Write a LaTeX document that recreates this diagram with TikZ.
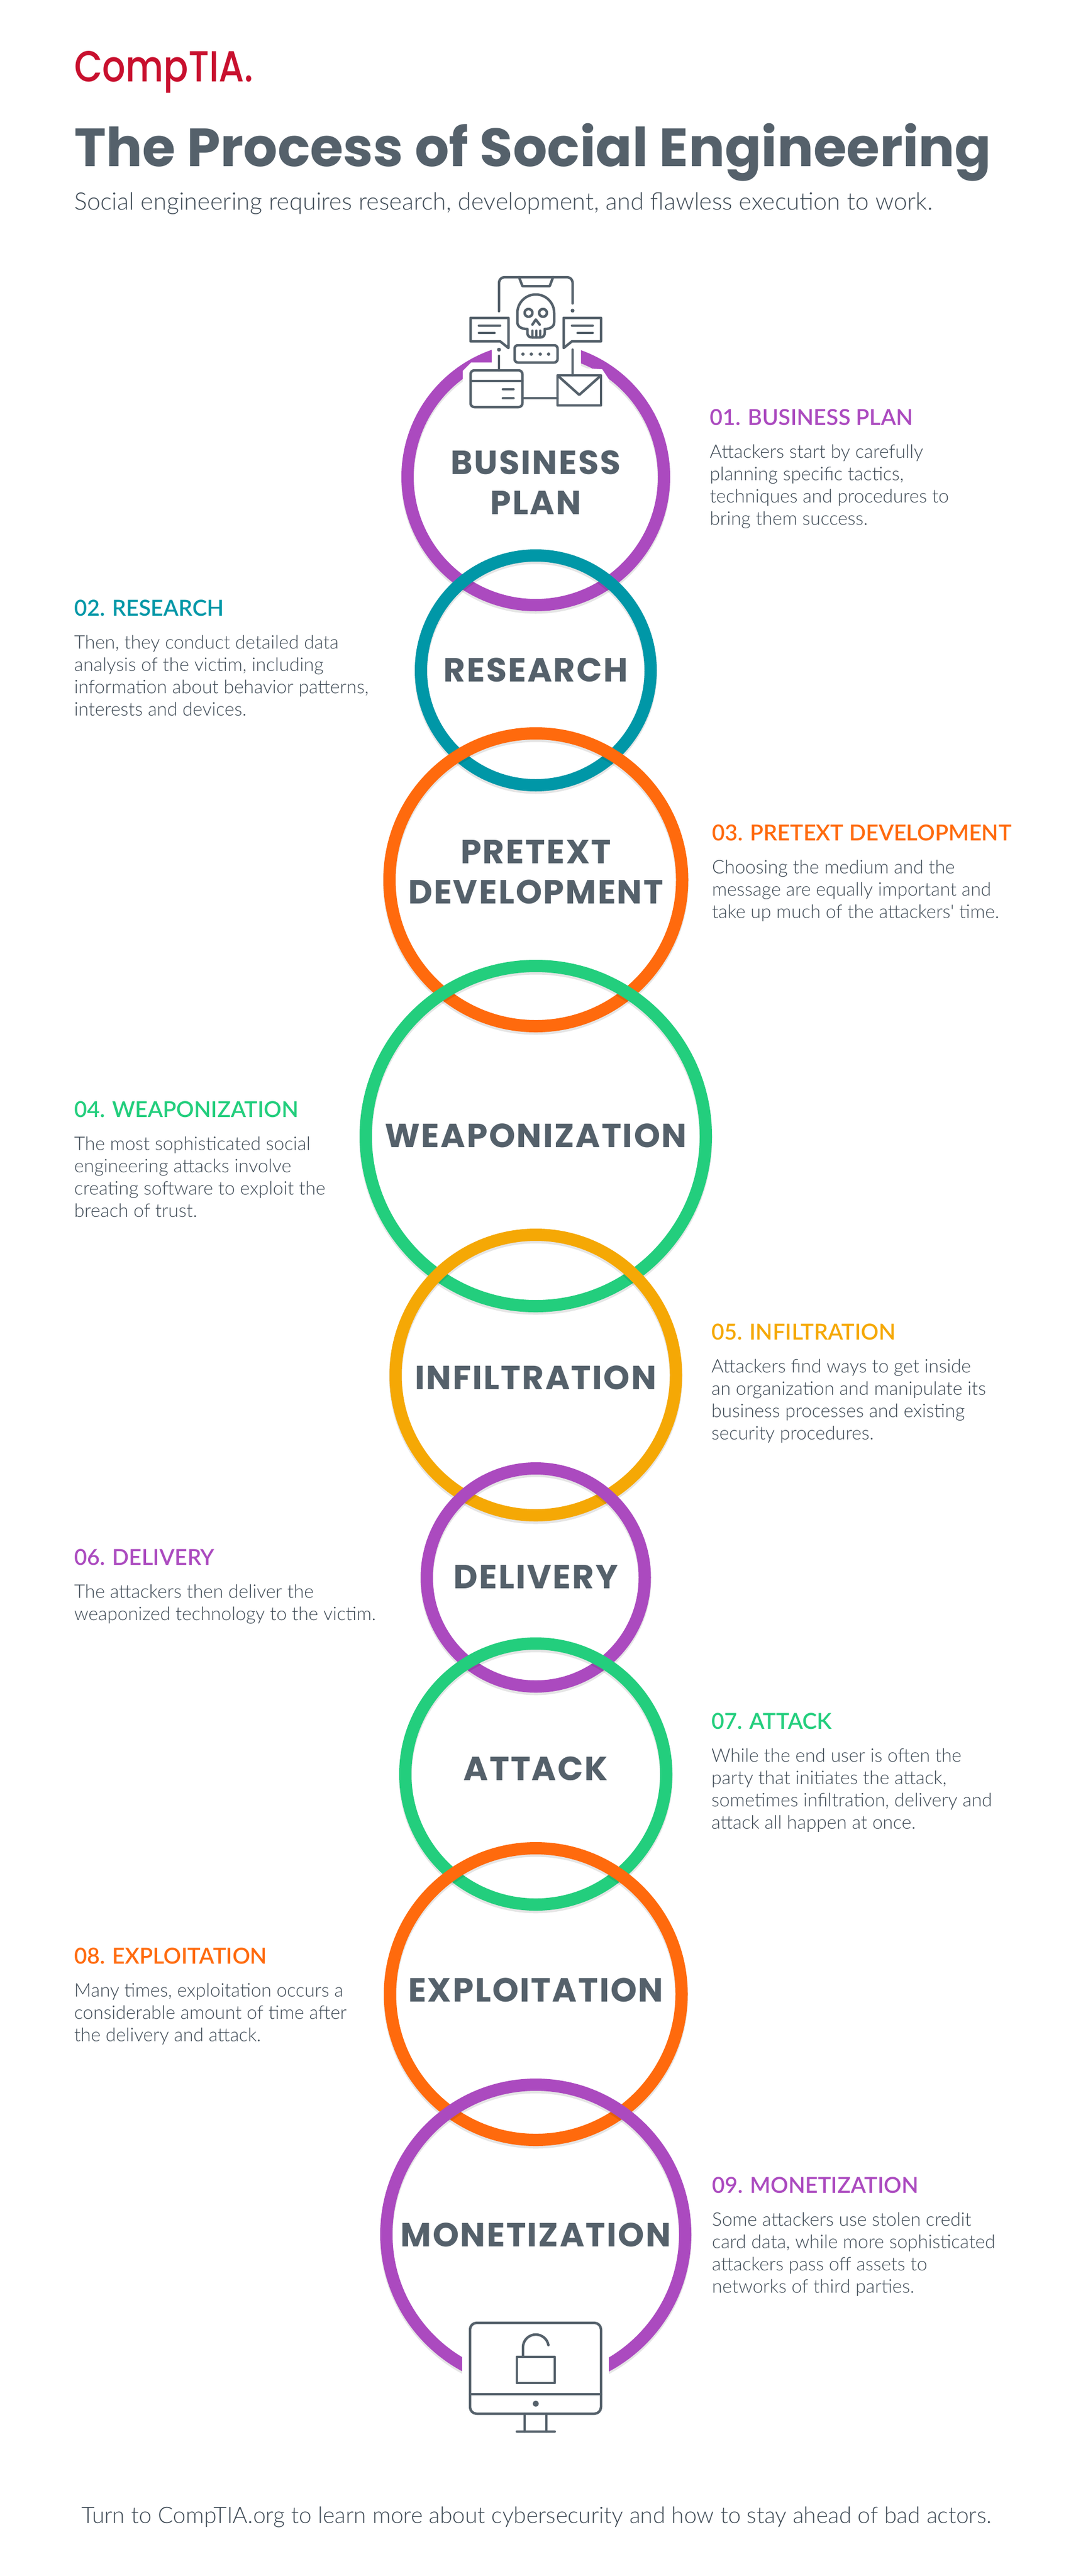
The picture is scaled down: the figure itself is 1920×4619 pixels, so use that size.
\documentclass[tikz,border=0pt]{standalone}
\usepackage{fontspec}
\usetikzlibrary{positioning}
\setmainfont{Lato}
\newfontfamily\bodyfont{Lato Light}
\newfontfamily\headfont{Lato Semibold}
\newfontfamily\ringfont{Poppins Bold}[LetterSpace=4]
\newfontfamily\logofont{Poppins Medium}
\newfontfamily\titlefont{Poppins}[BoldFont=Poppins Bold]
\definecolor{ringpurple}{HTML}{AB4ABF}
\definecolor{ringteal}{HTML}{0097A7}
\definecolor{ringorange}{HTML}{FF6A0D}
\definecolor{ringgreen}{HTML}{23CE7D}
\definecolor{ringamber}{HTML}{F5A805}
\definecolor{slategray}{HTML}{55616B}
\definecolor{bodygray}{HTML}{3E4A55}
\definecolor{logored}{HTML}{C8102E}
\tikzset{
    ring/.style = {draw = #1, line width = 22pt,
        preaction = {draw = black, draw opacity = 0.10, line width = 23pt, transform canvas = {yshift = -4pt}}},
    ringlabel/.style = {font = \ringfont\fontsize{60}{72}\selectfont, text = slategray, inner sep = 0pt, align = center},
    stephead/.style = {font = \headfont\fontsize{39.5}{44}\selectfont, text = #1, inner sep = 0pt, anchor = base west},
    stepbody/.style = {font = \bodyfont\fontsize{33.5}{40}\selectfont, text = bodygray, inner sep = 0pt, align = left, execute at begin node = \strut},
    icon/.style = {draw = slategray, line width = 4.5pt, line cap = round, line join = round},
    icondot/.style = {fill = slategray}
}
\begin{document}
\begin{tikzpicture}[x = 1pt, y = -1pt]
    \useasboundingbox (0, 0) rectangle (1920, 4619);
    % rings, the later one lies on the earlier one
    \draw [ring = ringpurple] (961, 855) circle [radius = 230pt];
    \draw [ring = ringteal] (961, 1202) circle [radius = 206pt];
    \draw [ring = ringorange] (961, 1577.5) circle [radius = 262.5pt];
    \draw [ring = ringgreen] (961, 2037) circle [radius = 305pt];
    \draw [ring = ringamber] (961, 2465.5) circle [radius = 251.5pt];
    \draw [ring = ringpurple] (961, 2828.5) circle [radius = 195.5pt];
    \draw [ring = ringgreen] (961, 3181) circle [radius = 234pt];
    \draw [ring = ringorange] (961, 3575.5) circle [radius = 261.5pt];
    \draw [ring = ringpurple] (961, 4006) circle [radius = 268pt];
    % white gaps for the two icons
    \fill [white] (882, 600) -- (882, 650) -- (845, 650) -- (830, 665) -- (830, 760) -- (1092, 760)
        -- (1092, 680) -- (1080, 662) -- (1042, 660) -- (1042, 600) -- cycle;
    \fill [white] (829, 4150) rectangle (1092, 4350);
    % header
    \node [font = \logofont\fontsize{78}{90}\selectfont, text = logored, inner sep = 0pt, anchor = base west, xscale = 0.84, transform shape] (logo) at (133, 147) {CompTIA.};
    \node [font = \titlefont\bfseries\fontsize{96.5}{100}\selectfont, text = slategray, inner sep = 0pt, anchor = base west] (title) at (133, 298) {The Process of Social Engineering};
    \node [font = \bodyfont\fontsize{43.3}{50}\selectfont, text = bodygray, inner sep = 0pt, anchor = base west] (subtitle) at (133, 376) {Social engineering requires research, development, and flawless execution to work.};
    % ring names
    \node [ringlabel] (lbusiness) at (961, 865) {BUSINESS\\PLAN};
    \node [ringlabel] (lresearch) at (961, 1201) {RESEARCH};
    \node [ringlabel] (lpretext) at (961, 1563.5) {PRETEXT\\DEVELOPMENT};
    \node [ringlabel] (lweapon) at (961, 2036) {WEAPONIZATION};
    \node [ringlabel] (linfil) at (961, 2470) {INFILTRATION};
    \node [ringlabel] (ldelivery) at (961, 2827) {DELIVERY};
    \node [ringlabel] (lattack) at (961, 3171) {ATTACK};
    \node [ringlabel] (lexploit) at (961, 3568.5) {EXPLOITATION};
    \node [ringlabel] (lmoney) at (961, 4007) {MONETIZATION};
    % steps
    \node [stephead = ringpurple] (h1) at (1273, 762) {01. BUSINESS PLAN};
    \node [stepbody, below right = 35pt and 0pt of h1.base west] (b1) {Attackers start by carefully\\planning specific tactics,\\techniques and procedures to\\bring them success.};
    \node [stephead = ringteal] (h2) at (133, 1104) {02. RESEARCH};
    \node [stepbody, below right = 35pt and 0pt of h2.base west] (b2) {Then, they conduct detailed data\\analysis of the victim, including\\information about behavior patterns,\\interests and devices.};
    \node [stephead = ringorange] (h3) at (1277, 1507) {03. PRETEXT DEVELOPMENT};
    \node [stepbody, below right = 35pt and 0pt of h3.base west] (b3) {Choosing the medium and the\\message are equally important and\\take up much of the attackers' time.};
    \node [stephead = ringgreen] (h4) at (133, 2003) {04. WEAPONIZATION};
    \node [stepbody, below right = 35pt and 0pt of h4.base west] (b4) {The most sophisticated social\\engineering attacks involve\\creating software to exploit the\\breach of trust.};
    \node [stephead = ringamber] (h5) at (1276, 2402) {05. INFILTRATION};
    \node [stepbody, below right = 35pt and 0pt of h5.base west] (b5) {Attackers find ways to get inside\\an organization and manipulate its\\business processes and existing\\security procedures.};
    \node [stephead = ringpurple] (h6) at (133, 2806) {06. DELIVERY};
    \node [stepbody, below right = 35pt and 0pt of h6.base west] (b6) {The attackers then deliver the\\weaponized technology to the victim.};
    \node [stephead = ringgreen] (h7) at (1276, 3100) {07. ATTACK};
    \node [stepbody, below right = 35pt and 0pt of h7.base west] (b7) {While the end user is often the\\party that initiates the attack,\\sometimes infiltration, delivery and\\attack all happen at once.};
    \node [stephead = ringorange] (h8) at (133, 3521) {08. EXPLOITATION};
    \node [stepbody, below right = 35pt and 0pt of h8.base west] (b8) {Many times, exploitation occurs a\\considerable amount of time after\\the delivery and attack.};
    \node [stephead = ringpurple] (h9) at (1277, 3932) {09. MONETIZATION};
    \node [stepbody, below right = 35pt and 0pt of h9.base west] (b9) {Some attackers use stolen credit\\card data, while more sophisticated\\attackers pass off assets to\\networks of third parties.};
    % footer
    \node [font = \bodyfont\fontsize{40.8}{44}\selectfont, text = bodygray, inner sep = 0pt, anchor = base west] (footer) at (146, 4524) {Turn to CompTIA.org to learn more about cybersecurity and how to stay ahead of bad actors.};
    % phone icon
    \draw [icon] (895, 558) -- (895, 507) arc [start angle = 180, end angle = 90, radius = 10pt] -- (1017, 497) arc [start angle = 90, end angle = 0, radius = 10pt] -- (1027, 544);
    \draw [icon] (931, 497) -- (937, 513) -- (986, 513) -- (992, 497);
    \fill [icondot] (1027, 557) circle [radius = 3.5pt];
    \fill [icondot] (895, 627) circle [radius = 3.5pt];
    \draw [icon] (895, 638) -- (895, 664);
    \draw [icon] (1027, 627) -- (1027, 673);
    % skull
    \draw [icon] (928, 561) arc [start angle = 180, end angle = 0, radius = 33pt] -- (994, 578) .. controls (994, 586) and (986, 590) .. (977, 590)
        -- (977, 597) .. controls (977, 602) and (974, 605) .. (969, 605) -- (954, 605) .. controls (949, 605) and (946, 602) .. (946, 597)
        -- (946, 590) .. controls (936, 590) and (928, 586) .. (928, 578) -- cycle;
    \draw [icon] (955, 593) -- (955, 605);
    \draw [icon] (962, 593) -- (962, 605);
    \draw [icon] (969, 593) -- (969, 605);
    \draw [icon] (948, 561) circle [radius = 7pt];
    \draw [icon] (974, 561) circle [radius = 7pt];
    \draw [icon] (955, 582) -- (961, 573) -- (968, 582);
    % password box
    \draw [icon, rounded corners = 6pt] (923, 619) rectangle (1000, 650);
    \fill [icondot] (938, 635) circle [radius = 3pt];
    \fill [icondot] (953, 635) circle [radius = 3pt];
    \fill [icondot] (969, 635) circle [radius = 3pt];
    \fill [icondot] (984, 635) circle [radius = 3pt];
    % speech bubbles
    \draw [icon] (844, 570) -- (912, 570) -- (912, 624) -- (897, 612) -- (844, 612) -- cycle;
    \draw [icon] (859, 584) -- (897, 584);
    \draw [icon] (859, 597) -- (887, 597);
    \draw [icon] (1011, 570) -- (1078, 570) -- (1078, 612) -- (1026, 612) -- (1011, 624) -- cycle;
    \draw [icon] (1026, 584) -- (1063, 584);
    \draw [icon] (1036, 597) -- (1063, 597);
    % card and envelope
    \draw [icon, rounded corners = 7pt] (844, 664) rectangle (937, 730);
    \draw [icon] (844, 683) -- (937, 683);
    \draw [icon] (902, 698) -- (921, 698);
    \draw [icon] (902, 714) -- (921, 714);
    \draw [icon] (937, 714) -- (1000, 714);
    \draw [icon] (1000, 673) rectangle (1078, 727);
    \draw [icon] (1002, 675) -- (1039, 708) -- (1076, 675);
    % monitor icon
    \draw [icon, rounded corners = 12pt] (843, 4165) rectangle (1078, 4328);
    \draw [icon] (843, 4293) -- (1078, 4293);
    \fill [icondot] (961, 4310) circle [radius = 5.5pt];
    \draw [icon] (941, 4328) -- (941, 4360);
    \draw [icon] (980, 4328) -- (980, 4360);
    \draw [icon] (927, 4360) -- (995, 4360);
    \draw [icon] (927, 4226) rectangle (995, 4273);
    \draw [icon] (938, 4226) -- (938, 4209) arc [start angle = 180, end angle = 10, radius = 23pt];
\end{tikzpicture}
\end{document}
